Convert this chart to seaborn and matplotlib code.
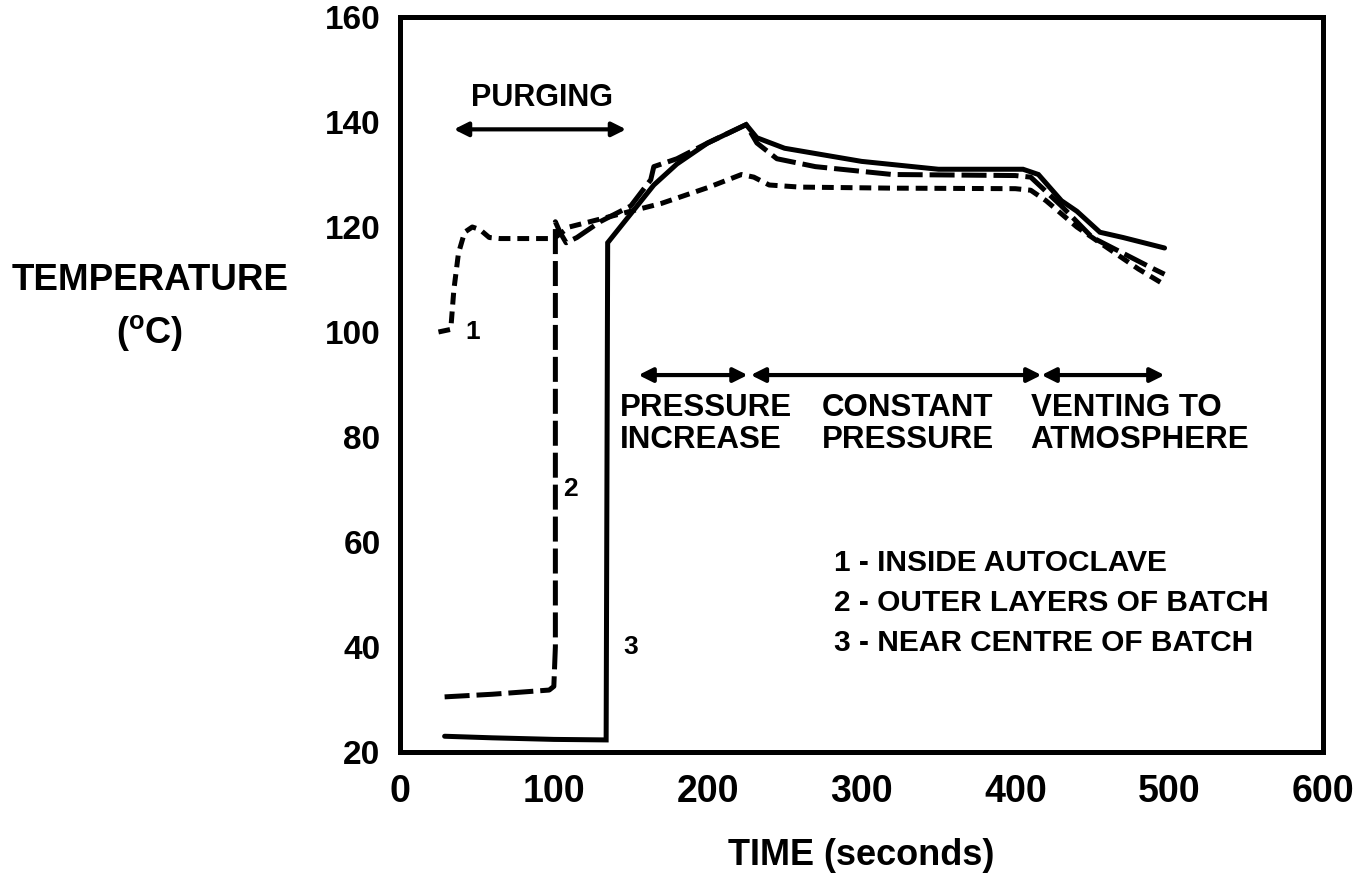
import matplotlib
matplotlib.use("Agg")
import matplotlib.pyplot as plt
import seaborn as sns
import pandas as pd

# ---- data ----
t1 = [25, 33, 35, 38, 42, 47, 52, 58, 65, 80, 100, 110, 130, 150, 170, 200, 222, 230, 240, 260, 320, 400, 410, 420, 440, 460, 480, 497]
T1 = [100, 100.5, 108, 115, 119, 120, 119.5, 118, 117.8, 117.8, 117.8, 120, 121.5, 123, 124.5, 127.5, 130, 129.5, 128, 127.6, 127.4, 127.3, 127, 125, 120, 116, 112, 109]

t2 = [29, 60, 97, 100, 101, 101, 104, 108, 115, 130, 150, 163, 165, 180, 200, 225, 232, 245, 270, 320, 400, 410, 430, 450, 470, 490, 497]
T2 = [30.5, 31, 31.8, 32.5, 40, 121, 119, 117, 118, 121, 124, 129, 131.5, 133, 136, 139.5, 136, 133, 131.5, 130, 129.8, 129.5, 124, 118, 115, 112, 111]

t3 = [29, 60, 100, 134, 135, 150, 165, 180, 200, 225, 232, 250, 300, 350, 405, 415, 430, 440, 455, 470, 497]
T3 = [23, 22.7, 22.4, 22.3, 117, 122.5, 128, 132, 136, 139.5, 137, 135, 132.5, 131, 131, 130, 125, 123, 119, 118, 116]

x_ticks = [0, 100, 200, 300, 400, 500, 600]
y_ticks = [20, 40, 60, 80, 100, 120, 140, 160]

legend_lines = ["1 - INSIDE AUTOCLAVE", "2 - OUTER LAYERS OF BATCH", "3 - NEAR CENTRE OF BATCH"]

sns.set_theme(style="white")
FONT = ["Liberation Sans", "DejaVu Sans"]
plt.rcParams["font.family"] = FONT
plt.rcParams["lines.scale_dashes"] = False
for k in ["text.color", "axes.labelcolor", "xtick.color", "ytick.color"]:
    plt.rcParams[k] = "black"

fig = plt.figure(figsize=(13.56, 8.77), dpi=100)
ax = fig.add_axes([400 / 1356, 1 - 752 / 877, 923 / 1356, 735 / 877])

df1 = pd.DataFrame({"t": t1, "T": T1})
df2 = pd.DataFrame({"t": t2, "T": T2})
df3 = pd.DataFrame({"t": t3, "T": T3})

lw = 3.6
for d in (df1, df2, df3):
    sns.lineplot(data=d, x="t", y="T", ax=ax, color="black", lw=lw, sort=False,
                 estimator=None, dashes=False)
lines = ax.get_lines()
lines[0].set_dashes((8.5, 5))
lines[1].set_dashes((18, 5))
lines[2].set_linestyle("-")
for ln in lines:
    ln.set_solid_joinstyle("miter")
    ln.set_dash_capstyle("butt")

ax.set_xlim(0, 600)
ax.set_ylim(20, 160)
ax.set_xticks(x_ticks)
ax.set_yticks(y_ticks)
ax.set_xticklabels([str(v) for v in x_ticks], fontsize=27, fontweight="bold")
ax.set_yticklabels([str(v) for v in y_ticks], fontsize=24, fontweight="bold")
ax.tick_params(axis="x", direction="in", length=11, width=2.5, pad=16)
ax.tick_params(axis="y", direction="in", length=13, width=2.5, pad=14)
for s in ax.spines.values():
    s.set_visible(True)
    s.set_linewidth(3.6)
    s.set_color("black")

ax.set_xlabel("TIME (seconds)", fontsize=26, fontweight="bold", labelpad=20)
ax.set_ylabel("")
fig.text(150 / 1356, 1 - 280 / 877, "TEMPERATURE", fontsize=26.5, fontweight="bold",
         ha="center", va="center")
fig.text(150 / 1356, 1 - 333 / 877, "($^{\\mathregular{o}}$C)", fontsize=26, fontweight="bold",
         ha="center", va="center")

arrow_kw = dict(arrowstyle="<|-|>,head_length=0.7,head_width=0.35", color="black", lw=3,
                shrinkA=0, shrinkB=0)
ax.annotate("", xy=(35, 138.6), xytext=(147, 138.6), arrowprops=arrow_kw)
ax.annotate("", xy=(155, 91.8), xytext=(226, 91.8), arrowprops=arrow_kw)
ax.annotate("", xy=(228, 91.8), xytext=(417, 91.8), arrowprops=arrow_kw)
ax.annotate("", xy=(417, 91.8), xytext=(497, 91.8), arrowprops=arrow_kw)

tk = dict(fontweight="bold", color="black")
ax.text(92, 144.5, "PURGING", fontsize=22, ha="center", va="center", **tk)
ax.text(143, 82.5, "PRESSURE\nINCREASE", fontsize=22.5, ha="left", va="center", linespacing=1.1, **tk)
ax.text(274, 82.5, "CONSTANT\nPRESSURE", fontsize=22.5, ha="left", va="center", linespacing=1.1, **tk)
ax.text(410, 82.5, "VENTING TO\nATMOSPHERE", fontsize=22.5, ha="left", va="center", linespacing=1.1, **tk)

ax.text(47.5, 100, "1", fontsize=19, ha="center", va="center", **tk)
ax.text(111, 70, "2", fontsize=19, ha="center", va="center", **tk)
ax.text(150, 40, "3", fontsize=19, ha="center", va="center", **tk)

for i, s in enumerate(legend_lines):
    ax.text(282, 56 - i * 7.6, s, fontsize=21.5, ha="left", va="center", **tk)

fig.savefig("out.png", dpi=100, facecolor="white")
